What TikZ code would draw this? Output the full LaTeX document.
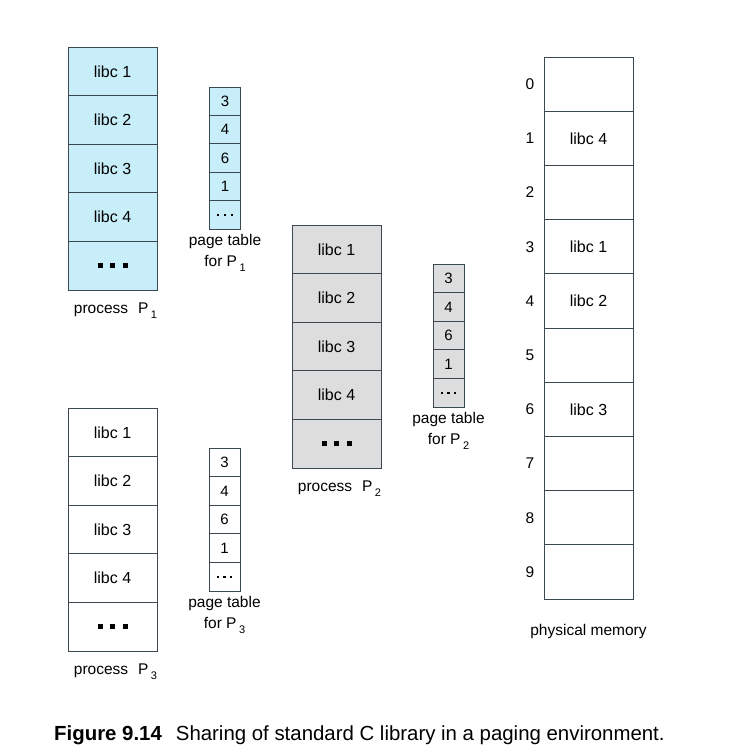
\documentclass[tikz,border=0pt]{standalone}
\usepackage{fontspec}
\setmainfont{Liberation Sans}
\usetikzlibrary{positioning}
\definecolor{libblue}{HTML}{C8EEFA}
\definecolor{libgray}{HTML}{DDDDDD}
\definecolor{framecol}{HTML}{3C4850}
\newcommand{\psub}[1]{\hspace{2.5pt}\raisebox{-5pt}{\fontsize{11}{11}\selectfont #1}}
\newcommand{\bigdots}{\rule{5pt}{5pt}\hspace{7.5pt}\rule{5pt}{5pt}\hspace{7.5pt}\rule{5pt}{5pt}}
\newcommand{\smalldots}{\rule{2.3pt}{2.3pt}\hspace{4.5pt}\rule{2.3pt}{2.3pt}\hspace{4.5pt}\rule{2.3pt}{2.3pt}}
\tikzstyle{page}=[draw=framecol,line width=0.9pt,minimum width=89pt,minimum height=48.6pt,inner sep=0pt,font=\fontsize{16}{18}\selectfont]
\tikzstyle{entry}=[draw=framecol,line width=0.9pt,minimum width=31pt,minimum height=28.5pt,inner sep=0pt,font=\fontsize{15}{18}\selectfont]
\tikzstyle{frame}=[draw=framecol,line width=0.9pt,minimum width=89pt,minimum height=54.2pt,inner sep=0pt,font=\fontsize{16}{18}\selectfont]
\tikzstyle{label}=[inner sep=0pt,font=\fontsize{15.5}{21}\selectfont,align=center]

\begin{document}
\begin{tikzpicture}[x=1pt,y=-1pt]
    \useasboundingbox (0,0) rectangle (740,756);
    % process P1 and its page table
    \foreach \row/\txt in {0/libc 1, 1/libc 2, 2/libc 3, 3/libc 4, 4/\bigdots}
        \node[page,fill=libblue] (pa\row) at (112.5,{71.3+48.6*\row}) {\txt};
    \foreach \row/\txt in {0/3, 1/4, 2/6, 3/1, 4/\smalldots}
        \node[entry,fill=libblue] (ta\row) at (225,{101.2+28.4*\row}) {\txt};
    \node[label,xshift=3pt] (proca) [below=12pt of pa4] {process\hspace{10pt}P\psub{1}};
    \node[label] (taba) [below=5pt of ta4] {page table\\for P\psub{1}};

    % process P2 and its page table
    \foreach \row/\txt in {0/libc 1, 1/libc 2, 2/libc 3, 3/libc 4, 4/\bigdots}
        \node[page,fill=libgray] (pb\row) at (336.5,{249.3+48.6*\row}) {\txt};
    \foreach \row/\txt in {0/3, 1/4, 2/6, 3/1, 4/\smalldots}
        \node[entry,fill=libgray] (tb\row) at (448.5,{278.3+28.6*\row}) {\txt};
    \node[label,xshift=3pt] (procb) [below=12pt of pb4] {process\hspace{10pt}P\psub{2}};
    \node[label] (tabb) [below=5pt of tb4] {page table\\for P\psub{2}};

    % process P3 and its page table
    \foreach \row/\txt in {0/libc 1, 1/libc 2, 2/libc 3, 3/libc 4, 4/\bigdots}
        \node[page,fill=white] (pc\row) at (112.5,{432.3+48.6*\row}) {\txt};
    \foreach \row/\txt in {0/3, 1/4, 2/6, 3/1, 4/\smalldots}
        \node[entry,fill=white] (tc\row) at (224.5,{462.3+28.6*\row}) {\txt};
    \node[label,xshift=3pt] (procc) [below=12pt of pc4] {process\hspace{10pt}P\psub{3}};
    \node[label] (tabc) [below=5pt of tc4] {page table\\for P\psub{3}};

    % physical memory frames
    \foreach \row/\txt in {0/{}, 1/libc 4, 2/{}, 3/libc 1, 4/libc 2, 5/{}, 6/libc 3, 7/{}, 8/{}, 9/{}}
    {
        \node[frame] (m\row) at (588.5,{84.1+54.2*\row}) {\txt};
        \node[label] (n\row) [left=9pt of m\row] {\row};
    }
    \node[label] (mem) [below=25pt of m9] {physical memory};

    % caption
    \node[inner sep=0pt,anchor=base west,font=\fontsize{20.4}{24}\selectfont] (cap) at (54,740)
        {\textbf{Figure 9.14}\hspace{14pt}Sharing of standard C library in a paging environment.};
\end{tikzpicture}
\end{document}
